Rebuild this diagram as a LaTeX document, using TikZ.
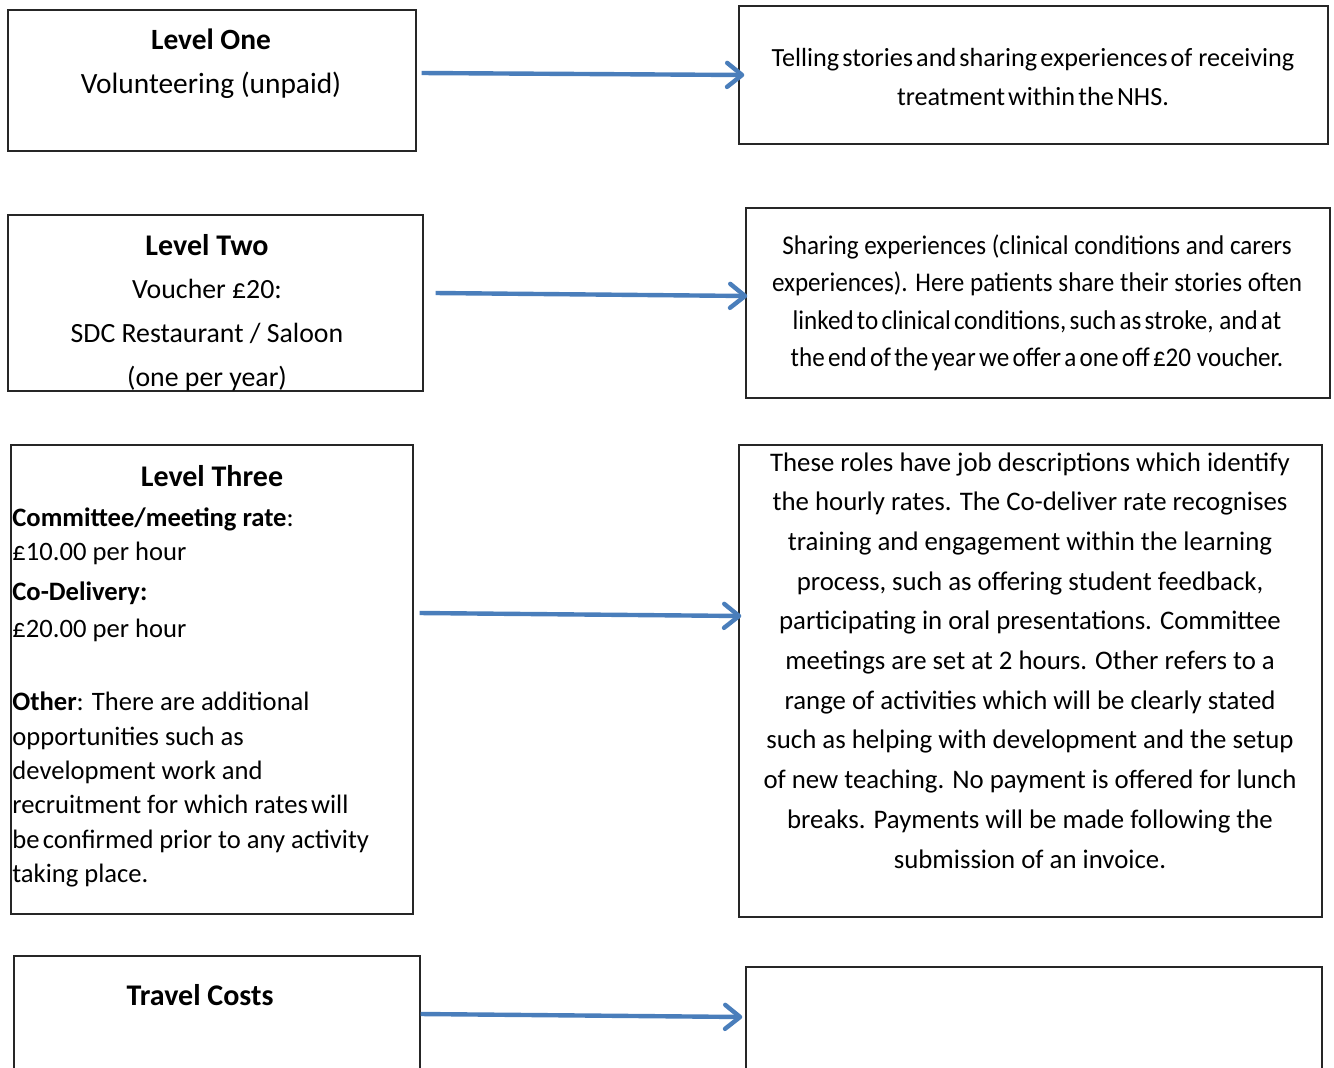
\documentclass[tikz,border=0pt]{standalone}
\usepackage{fontspec}
\setmainfont{Carlito}
\newfontfamily\narrowfont[FakeStretch=0.93]{Carlito}
\usetikzlibrary{arrows.meta}
\definecolor{linkblue}{RGB}{74,126,187}
\tikzset{
	box/.style={draw=black!85, line width=0.7pt, inner sep=0pt},
	txt/.style={inner sep=0pt, anchor=base},
	link/.style={draw=linkblue, line width=2.2pt, -{Straight Barb[length=7.5pt,width=12pt,round]}}
}
\newcommand{\tight}{\spaceskip=0.12em plus 0.05em\relax}

\begin{document}
\begin{tikzpicture}[x=0.5pt,y=-0.5pt]
\useasboundingbox (0,0) rectangle (1334,1067);

\node[box, minimum width=204pt, minimum height=70.5pt] (l1) at (212,80.5) {};
\node[box, minimum width=207.5pt, minimum height=88pt] (l2) at (215.5,303) {};
\node[box, minimum width=201pt, minimum height=234.5pt] (l3) at (212,679.5) {};
\node[box, minimum width=203pt, minimum height=62pt] (l4) at (217,1018) {};

\node[box, minimum width=294.5pt, minimum height=69pt] (r1) at (1033.5,75) {};
\node[box, minimum width=292pt, minimum height=95pt] (r2) at (1038,303) {};
\node[box, minimum width=291.5pt, minimum height=236pt] (r3) at (1030.5,681) {};
\node[box, minimum width=288pt, minimum height=56.5pt] (r4) at (1034,1023.5) {};

\node[txt, align=center, font=\fontsize{14.7}{22}\selectfont] (l1txt) at (211,93)
{\textbf{Level One}\\Volunteering (unpaid)};

\node[txt, align=center, font=\fontsize{13.9}{21.8}\selectfont] (l2txt) at (207,386)
{{\fontsize{15}{21.8}\selectfont\textbf{Level Two}}\\Voucher £20:\\SDC Restaurant / Saloon\\(one per year)};

\node[txt, font=\fontsize{15}{18}\selectfont\bfseries] (l3head) at (212,486.5) {Level Three};
\node[txt, anchor=base west, align=left, font=\fontsize{13.3}{17.2}\selectfont] (l3txt) at (12,882.6)
{\textbf{Committee/meeting rate}:\\£10.00 per hour\\[3pt]\textbf{Co-Delivery:}\\[1pt]£20.00 per hour\\[19.5pt]
\textbf{Other}: There are additional\\opportunities such as\\development work and\\recruitment for which {\tight rates will}\\{\tight be confirmed} prior to any activity\\taking place.};

\node[txt, font=\fontsize{15}{18}\selectfont\bfseries] (l4txt) at (200,1005.5) {Travel Costs};

\node[txt, align=center, font=\fontsize{13.1}{19.5}\selectfont] (r1txt) at (1033,105)
{{\tight Telling stories and sharing experiences of} receiving\\{\tight treatment within the NHS.}};

\node[txt, align=center, font=\fontsize{13.5}{18.7}\narrowfont] (r2txt) at (1037,366.4)
{Sharing experiences (clinical conditions and carers\\experiences). Here patients share their stories often\\
{\tight linked to clinical conditions, such as stroke,} {\tight and at}\\{\tight the end of the year we offer a one off £20} voucher.};

\node[txt, align=center, font=\fontsize{13.4}{19.85}\selectfont] (r3txt) at (1030,868)
{These roles have job descriptions which identify\\the hourly rates. The Co-deliver rate recognises\\
training and engagement within the learning\\process, such as offering student feedback,\\
participating in oral presentations. Committee\\meetings are set at 2 hours. Other refers to a\\
range of activities which will be clearly stated\\such as helping with development and the setup\\
of new teaching. No payment is offered for lunch\\breaks. Payments will be made following the\\
submission of an invoice.};

\draw[link] ([shift={(5,-7.5)}]l1.east) -- ([shift={(6,0)}]r1.west);
\draw[link] ([shift={(12,-10)}]l2.east) -- ([shift={(2,-7)}]r2.west);
\draw[link] ([shift={(6,-66.5)}]l3.east) -- ([shift={(3,-65)}]r3.west);
\draw[link] ([shift={(0,-4)}]l4.east) -- ([shift={(-3,-6.5)}]r4.west);
\end{tikzpicture}
\end{document}
